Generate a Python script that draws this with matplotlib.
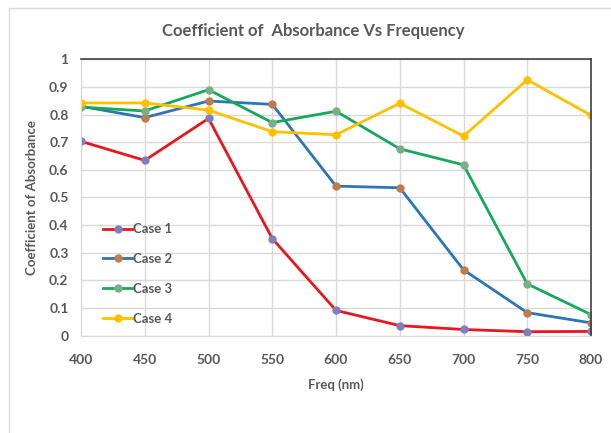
import matplotlib.pyplot as plt
from matplotlib.patches import Rectangle

plt.rcParams['font.family'] = ['Lato', 'DejaVu Sans']

freq = [400, 450, 500, 550, 600, 650, 700, 750, 800]
case1 = [0.703, 0.634, 0.786, 0.351, 0.091, 0.036, 0.022, 0.014, 0.015]
case2 = [0.830, 0.789, 0.849, 0.837, 0.541, 0.535, 0.238, 0.083, 0.046]
case3 = [0.827, 0.813, 0.890, 0.771, 0.812, 0.676, 0.618, 0.187, 0.076]
case4 = [0.842, 0.842, 0.816, 0.738, 0.727, 0.841, 0.722, 0.926, 0.797]

labels = ["Case 1", "Case 2", "Case 3", "Case 4"]
series = [case1, case2, case3, case4]
line_colors = ["#E8161E", "#2E75B6", "#18A85A", "#FFC000"]
marker_colors = ["#7F7FBF", "#C07C4A", "#7AAE86", "#FFC000"]

txt = "#595959"

fig = plt.figure(figsize=(6.11, 4.33), dpi=100)
ax = fig.add_axes([0.1326, 0.225, 0.8347, 0.638])

# рамка области диаграммы
fig.patches.append(Rectangle((9 / 611, -0.1), 1.2, 1 - 8 / 433 + 0.1,
                             transform=fig.transFigure, fill=False,
                             edgecolor="#D9D9D9", linewidth=1))

for y, lab, lc, mc in zip(series, labels, line_colors, marker_colors):
    ax.plot(freq, y, color=lc, linewidth=2, marker="o", markersize=5,
            markerfacecolor=mc, markeredgecolor=mc, label=lab)

ax.set_xlim(400, 800)
ax.set_ylim(0, 1)
ax.set_xticks(freq)
ax.set_yticks([i / 10 for i in range(11)])
ax.set_yticklabels(["0", "0.1", "0.2", "0.3", "0.4", "0.5", "0.6", "0.7",
                    "0.8", "0.9", "1"])
ax.grid(True, color="#D9D9D9", linewidth=1)
ax.set_axisbelow(True)

for s in ["left", "bottom"]:
    ax.spines[s].set_color("#D9D9D9")
for s in ["top", "right"]:
    ax.spines[s].set_color("#404040")
    ax.spines[s].set_linewidth(1.2)

ax.tick_params(length=0, labelsize=10, labelcolor=txt)
ax.tick_params(axis="x", pad=13)
ax.tick_params(axis="y", pad=9)
for t in ax.get_xticklabels() + ax.get_yticklabels():
    t.set_fontweight("bold")

fig.text(313 / 611, 1 - 31 / 433, "Coefficient of  Absorbance Vs Frequency",
         ha="center", va="center", fontsize=12, fontweight="bold", color=txt)
ax.set_xlabel("Freq (nm)", fontsize=9.5, fontweight="bold", color=txt,
              labelpad=9)
ax.set_ylabel("Coefficient of Absorbance", fontsize=9.5, fontweight="bold",
              color=txt, labelpad=8)

leg = ax.legend(loc="upper left", bbox_to_anchor=(0.02, 0.45), frameon=False,
                handlelength=2.2, handletextpad=0.1, labelspacing=1.35,
                fontsize=9.5)
for t in leg.get_texts():
    t.set_color(txt)
    t.set_fontweight("bold")

fig.savefig("out.png", dpi=100)
